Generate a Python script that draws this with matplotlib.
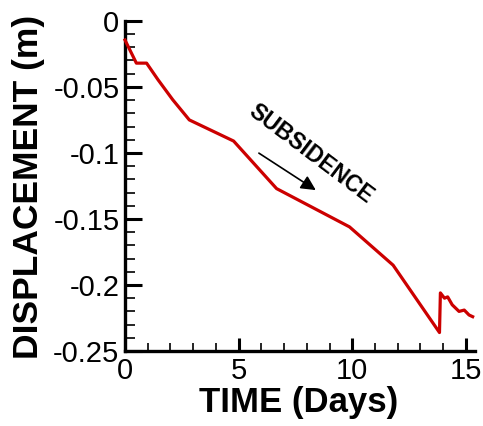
import matplotlib
matplotlib.use("Agg")
import matplotlib.pyplot as plt
from matplotlib.ticker import MultipleLocator

# surface displacement record (days, metres)
time_days = [0.0, 0.5, 0.95, 1.45, 2.1, 2.83, 4.78, 6.67, 9.88, 11.8,
             13.84, 13.88, 14.06, 14.2, 14.4, 14.7, 14.93, 15.14, 15.3]
displacement = [-0.0145, -0.032, -0.032, -0.0445, -0.0597, -0.075, -0.091, -0.127,
                -0.156, -0.185, -0.236, -0.206, -0.210, -0.209, -0.215, -0.220,
                -0.219, -0.2227, -0.224]

y_ticks = [0, -0.05, -0.1, -0.15, -0.2, -0.25]
y_tick_labels = ["0", "-0.05", "-0.1", "-0.15", "-0.2", "-0.25"]
x_ticks = [0, 5, 10, 15]

plt.rcParams["font.family"] = ["Liberation Sans", "DejaVu Sans"]

fig = plt.figure(figsize=(4.83, 4.26), dpi=100)
ax = fig.add_axes([0.2588, 0.176, 0.7245, 0.775])

ax.plot(time_days, displacement, color="#cc0000", lw=2.3, clip_on=False, zorder=3)

ax.set_xlim(0, 15.4)
ax.set_ylim(-0.25, 0)
ax.set_xticks(x_ticks)
ax.set_yticks(y_ticks)
ax.set_yticklabels(y_tick_labels)
ax.xaxis.set_minor_locator(MultipleLocator(1))
ax.yaxis.set_minor_locator(MultipleLocator(0.01))

for s in ("top", "right"):
    ax.spines[s].set_visible(False)
for s in ("left", "bottom"):
    ax.spines[s].set_linewidth(2.4)

ax.tick_params(axis="y", which="major", direction="in", length=12, width=2.2,
               labelsize=21, pad=4)
ax.tick_params(axis="y", which="minor", direction="in", length=7.5, width=1.2)
ax.tick_params(axis="x", which="major", direction="in", length=9.5, width=2.2,
               labelsize=21, pad=4)
ax.tick_params(axis="x", which="minor", direction="in", length=6, width=1.2)

ax.set_xlabel("TIME (Days)", fontsize=25, fontweight="bold")
ax.set_ylabel("DISPLACEMENT (m)", fontsize=25.5, fontweight="bold")
ax.xaxis.set_label_coords(0.497, -0.105)
ax.yaxis.set_label_coords(-0.228, 0.497)

ax.annotate("", xy=(8.5, -0.1293), xytext=(5.79, -0.099),
            arrowprops=dict(arrowstyle="-|>", color="black", lw=1.2,
                            mutation_scale=22))
ax.text(8.2, -0.1008, "SUBSIDENCE", rotation=-37, fontsize=16.5, fontweight="bold",
        ha="center", va="center")

fig.savefig("out.png", dpi=100)
